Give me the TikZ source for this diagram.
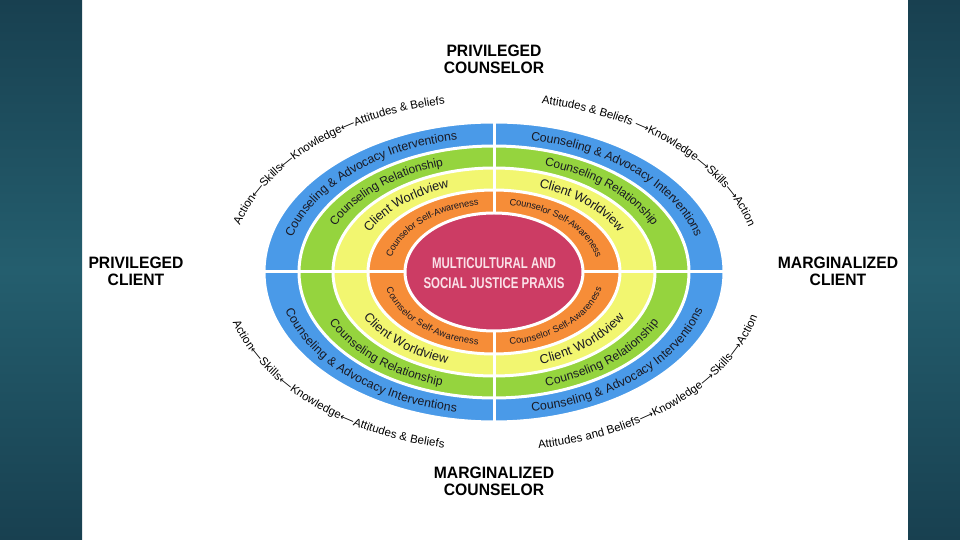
\documentclass[tikz,border=0pt]{standalone}
\usepackage{fontspec}
\setmainfont{Liberation Sans}
\newfontfamily\headfont[FakeStretch=0.95]{Liberation Sans}
\newfontfamily\praxisfont[FakeStretch=0.74]{Liberation Sans}
\newfontfamily\arrowfont{DejaVu Sans}
\usetikzlibrary{decorations.text}

\definecolor{paneldark}{RGB}{24,64,80}
\definecolor{panellight}{RGB}{36,94,110}
\definecolor{bandblue}{RGB}{74,154,232}
\definecolor{bandgreen}{RGB}{149,212,62}
\definecolor{bandyellow}{RGB}{242,246,112}
\definecolor{bandorange}{RGB}{246,141,56}
\definecolor{praxisred}{RGB}{204,60,100}
\definecolor{praxistext}{RGB}{250,225,232}
\definecolor{labeltext}{RGB}{25,25,35}

\newcommand\bluesize{\fontsize{12.3}{12.3}\selectfont\color{labeltext}}
\newcommand\greensize{\fontsize{12}{12}\selectfont\color{labeltext}}
\newcommand\yellowsize{\fontsize{12.8}{12.8}\selectfont\color{labeltext}}
\newcommand\orangesize{\fontsize{9.3}{9.3}\selectfont\color{labeltext}}
\newcommand\outersize{\rmfamily\fontsize{11.5}{11.5}\selectfont\color{black}}
\newcommand\arrowsize{\arrowfont\fontsize{10}{10}\selectfont\color{black}}

% text along one quarter of an ellipse round (c): rx, ry, from, to, raise, text
\newcommand\ringtext[6]{%
  \path[decorate, decoration={text along path, text align=center, raise=#5, text={#6}}]
    (c) ++(#3:#1pt and #2pt) arc[start angle=#3, end angle=#4, x radius=#1pt, y radius=#2pt];}

\tikzset{
  band/.style={fill=#1, draw=white, line width=3pt},
  divider/.style={draw=white, line width=3pt},
  heading/.style={font=\headfont\bfseries\fontsize{16.5}{17}\selectfont, align=center, text=black, inner sep=0pt},
}

\begin{document}
\begin{tikzpicture}[x=1pt,y=1pt]
  \useasboundingbox (0,0) rectangle (960,540);
  % slide background
  \fill[white] (0,0) rectangle (960,540);
  \shade[top color=paneldark, bottom color=paneldark, middle color=panellight] (0,0) rectangle (82,540);
  \shade[top color=paneldark, bottom color=paneldark, middle color=panellight] (908,0) rectangle (960,540);

  \coordinate (c) at (494,268);

  % rings
  \draw[band=bandblue] (c) ellipse [x radius=230pt, y radius=150pt];
  \draw[band=bandgreen] (c) ellipse [x radius=195pt, y radius=126pt];
  \draw[band=bandyellow] (c) ellipse [x radius=161pt, y radius=104pt];
  \draw[band=bandorange] (c) ellipse [x radius=126pt, y radius=82pt];
  \draw[divider] ([xshift=-232pt]c) -- ([xshift=232pt]c);
  \draw[divider] ([yshift=-152pt]c) -- ([yshift=152pt]c);
  \draw[band=praxisred] (c) ellipse [x radius=89pt, y radius=59pt];

  \node[font=\praxisfont\bfseries\fontsize{15.5}{20}\selectfont, text=praxistext, align=center] (praxis) at (494,266.5) {MULTICULTURAL AND\\SOCIAL JUSTICE PRAXIS};

  % ring labels, top half
  \ringtext{212.5}{138}{180}{90}{-4pt}{|\bluesize|Counseling {\&} Advocacy Interventions}
  \ringtext{212.5}{138}{90}{0}{-4pt}{|\bluesize|Counseling {\&} Advocacy Interventions}
  \ringtext{178}{115}{180}{90}{-4pt}{|\greensize|Counseling Relationship}
  \ringtext{178}{115}{90}{0}{-4pt}{|\greensize|Counseling Relationship}
  \ringtext{143.5}{93}{180}{90}{-4pt}{|\yellowsize|Client Worldview}
  \ringtext{143.5}{93}{90}{0}{-4pt}{|\yellowsize|Client Worldview}
  \ringtext{107.5}{70.5}{180}{90}{-3pt}{|\orangesize|Counselor Self-Awareness}
  \ringtext{107.5}{70.5}{90}{0}{-3pt}{|\orangesize|Counselor Self-Awareness}
  % ring labels, bottom half
  \ringtext{212.5}{138}{180}{270}{-4pt}{|\bluesize|Counseling {\&} Advocacy Interventions}
  \ringtext{212.5}{138}{270}{360}{-4pt}{|\bluesize|Counseling {\&} Advocacy Interventions}
  \ringtext{178}{115}{180}{270}{-4pt}{|\greensize|Counseling Relationship}
  \ringtext{178}{115}{270}{360}{-4pt}{|\greensize|Counseling Relationship}
  \ringtext{143.5}{93}{180}{270}{-4pt}{|\yellowsize|Client Worldview}
  \ringtext{143.5}{93}{270}{360}{-4pt}{|\yellowsize|Client Worldview}
  \ringtext{107.5}{70.5}{180}{270}{-3pt}{|\orangesize|Counselor Self-Awareness}
  \ringtext{107.5}{70.5}{270}{360}{-3pt}{|\orangesize|Counselor Self-Awareness}

  % outer sequences
  \ringtext{268}{175}{180}{90}{-4pt}{|\outersize|Action|\arrowsize|⟵|\outersize|Skills|\arrowsize|⟵|\outersize|Knowledge|\arrowsize|⟵|\outersize|Attitudes {\&} Beliefs}
  \ringtext{268}{175}{90}{0}{-4pt}{|\outersize|Attitudes {\&} Beliefs |\arrowsize|⟶|\outersize|Knowledge|\arrowsize|⟶|\outersize|Skills|\arrowsize|⟶|\outersize|Action}
  \ringtext{268}{175}{180}{270}{-4pt}{|\outersize|Action|\arrowsize|⟵|\outersize|Skills|\arrowsize|⟵|\outersize|Knowledge|\arrowsize|⟵|\outersize|Attitudes {\&} Beliefs}
  \ringtext{268}{175}{270}{360}{-4pt}{|\outersize|Attitudes and Beliefs|\arrowsize|⟶|\outersize|Knowledge|\arrowsize|⟶|\outersize|Skills|\arrowsize|⟶|\outersize|Action}

  % positions
  \node[heading] (topcounselor) at (494,480.5) {PRIVILEGED\\COUNSELOR};
  \node[heading] (leftclient) at (136,269) {PRIVILEGED\\CLIENT};
  \node[heading] (rightclient) at (838,269) {MARGINALIZED\\CLIENT};
  \node[heading] (bottomcounselor) at (494,59) {MARGINALIZED\\COUNSELOR};
\end{tikzpicture}
\end{document}
